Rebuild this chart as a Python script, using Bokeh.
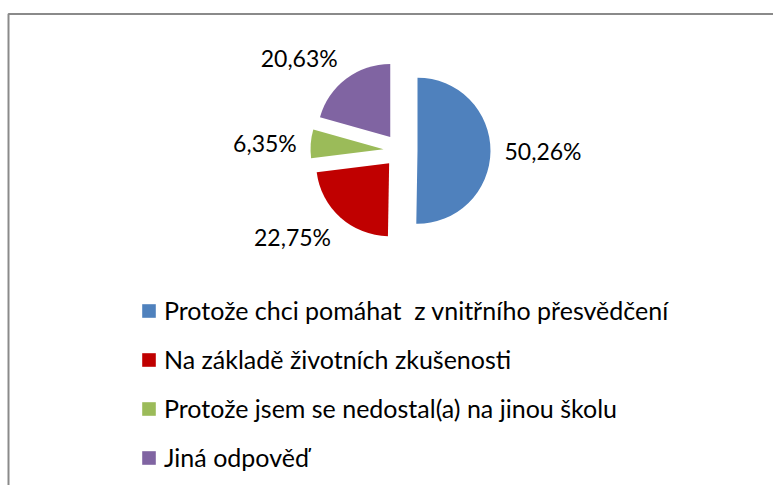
import numpy as np
from bokeh.plotting import figure
from bokeh.models import ColumnDataSource, Range1d, Legend, LegendItem
from bokeh.core.properties import value
from bokeh.embed import file_html
from bokeh.resources import INLINE

# ---- data ----
categories = [
    "Protože chci pomáhat  z vnitřního přesvědčení",
    "Na základě životních zkušenosti",
    "Protože jsem se nedostal(a) na jinou školu",
    "Jiná odpověď",
]
shares = [50.26, 22.75, 6.35, 20.63]
pct_labels = ["50,26%", "22,75%", "6,35%", "20,63%"]
colors = ["#4F81BD", "#C00000", "#9BBB59", "#8064A2"]

# ---- layout / style ----
W, H = 773, 485
CX, CY = 400, 335      # pie centre (data units = px)
R = 73                 # radius px
EXPLODE = 17           # explosion distance px
LABEL_GAP = 14
FONT = "Lato"

p = figure(width=W, height=H, x_range=Range1d(0, W), y_range=Range1d(0, H),
           x_axis_type=None, y_axis_type=None, output_backend="svg",
           toolbar_location=None, min_border=0)
p.grid.visible = False
p.outline_line_color = None
p.background_fill_color = "white"
p.border_fill_color = "white"

# chart-area frame (extends beyond right and bottom edges)
p.line([8, 8, W], [0, 471.5, 471.5], line_width=2, line_color="#8a8a8a")

vals = np.array(shares, dtype=float)
frac = vals / vals.sum()
cum = np.concatenate([[0.0], np.cumsum(frac)])
start = np.pi / 2 - 2 * np.pi * cum[:-1]
end = np.pi / 2 - 2 * np.pi * cum[1:]
mid = (start + end) / 2
xs = CX + EXPLODE * np.cos(mid)
ys = CY + EXPLODE * np.sin(mid)

items = []
for i, cat in enumerate(categories):
    src = ColumnDataSource(dict(x=[xs[i]], y=[ys[i]], s=[start[i]], e=[end[i]]))
    r = p.wedge(x="x", y="y", radius=R, radius_units="screen",
                start_angle="s", end_angle="e", direction="clock",
                fill_color=colors[i], line_color=None, source=src)
    items.append(LegendItem(label=cat, renderers=[r]))

    c, s = np.cos(mid[i]), np.sin(mid[i])
    lx = xs[i] + (R + LABEL_GAP) * c
    ly = ys[i] + (R + LABEL_GAP) * s
    align = "left" if c > 0.3 else ("right" if c < -0.3 else "center")
    base = "bottom" if s > 0.3 else ("top" if s < -0.3 else "middle")
    if base == "bottom":
        ly -= 4
    elif base == "top":
        ly += 5
    p.text(x=[lx], y=[ly], text=[pct_labels[i]], text_font=value(FONT),
           text_font_size="23px", text_color="#000000",
           text_align=align, text_baseline=base)

legend = Legend(items=items, location=(140, 13), orientation="vertical",
                padding=0, margin=0, spacing=19,
                glyph_width=17, glyph_height=17, label_standoff=7,
                label_text_font=FONT, label_text_font_size="25px",
                label_text_color="#000000",
                border_line_color=None, background_fill_alpha=0)
p.add_layout(legend, "center")

open("out.html", "w").write(file_html(p, INLINE))
